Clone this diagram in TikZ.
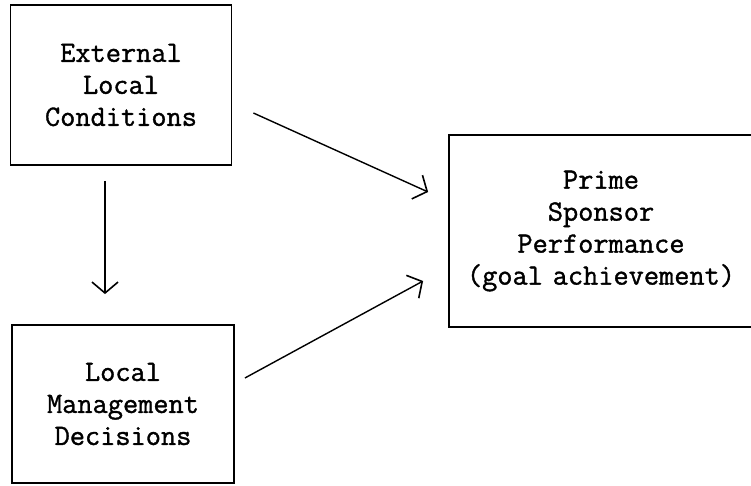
\documentclass[tikz,border=0pt]{standalone}
\usepackage{fontspec}
\setmonofont{Latin Modern Mono}[FakeBold=1.2]
\usetikzlibrary{arrows.meta}
\begin{document}
\begin{tikzpicture}[x=1pt,y=-1pt,
  box/.style={draw=black,line width=1.8pt,align=center,inner sep=0pt,
    font=\ttfamily\fontsize{29.5}{32}\selectfont},
  arr/.style={draw=black,line width=1.4pt,-{Straight Barb[length=11pt,width=26pt,line width=1.6pt]}}]
\useasboundingbox (0,0) rectangle (751,485);
\fill[white] (0,0) rectangle (751,485);
\node[box,minimum width=221pt,minimum height=160pt] (ext) at (121,85)
  {External\\Local\\Conditions};
\node[box,minimum width=222pt,minimum height=158pt] (mgmt) at (123,404)
  {Local\\Management\\Decisions};
\node[box,minimum width=304pt,minimum height=192pt,text width=296pt] (prime) at (601,231)
  {Prime\\Sponsor\\Performance\\(goal\ achievement)};
\draw[arr] ([xshift=21pt,yshift=-28pt]ext.east) -- ([xshift=-20pt,yshift=39pt]prime.west);
\draw[arr] ([xshift=10pt,yshift=26pt]mgmt.east) -- ([xshift=-25pt,yshift=-50pt]prime.west);
\draw[arr] ([xshift=-16pt,yshift=-15pt]ext.south) -- ([xshift=-18pt,yshift=30pt]mgmt.north);
\end{tikzpicture}
\end{document}
